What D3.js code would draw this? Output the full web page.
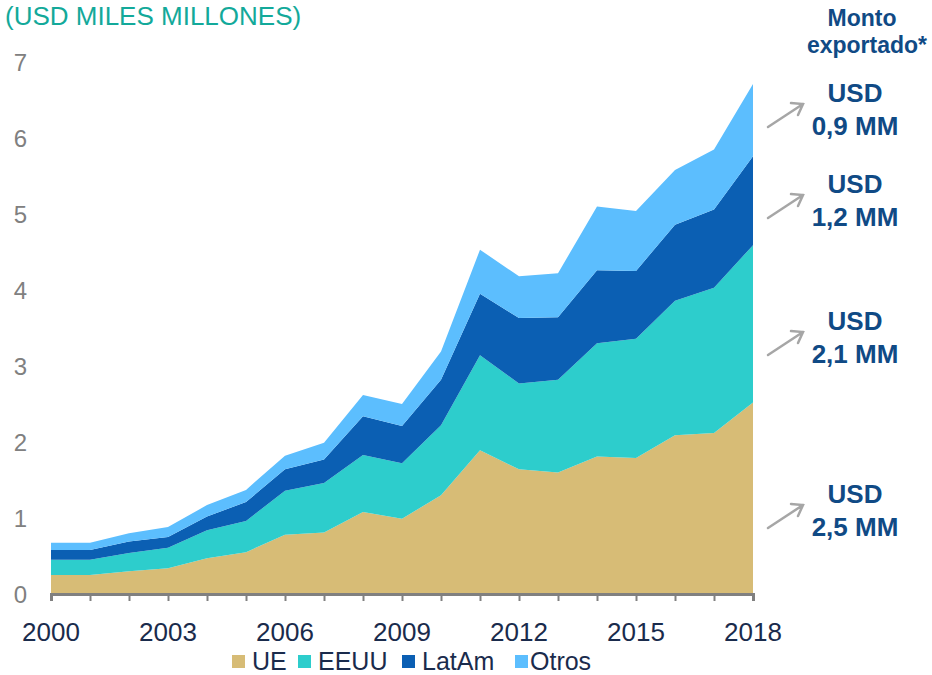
<!DOCTYPE html>
<html>
<head>
<meta charset="utf-8">
<script src="https://cdn.jsdelivr.net/npm/d3@7"></script>
<style>
  body { margin: 0; background: #fff; }
  svg { display: block; font-family: "Liberation Sans", Arial, sans-serif; }
</style>
</head>
<body>
<div id="chart"></div>
<script>
const years = d3.range(2000, 2019);
const ue    = [0.25, 0.25, 0.30, 0.34, 0.47, 0.55, 0.78, 0.81, 1.08, 0.99, 1.30, 1.89, 1.64, 1.60, 1.81, 1.79, 2.09, 2.12, 2.52];
const eeuu  = [0.20, 0.20, 0.24, 0.27, 0.37, 0.41, 0.58, 0.65, 0.75, 0.73, 0.92, 1.25, 1.13, 1.22, 1.49, 1.57, 1.77, 1.91, 2.07];
const latam = [0.13, 0.13, 0.15, 0.14, 0.18, 0.25, 0.28, 0.31, 0.51, 0.49, 0.60, 0.81, 0.86, 0.82, 0.96, 0.89, 1.00, 1.03, 1.17];
const otros = [0.095, 0.095, 0.11, 0.13, 0.15, 0.16, 0.18, 0.22, 0.28, 0.29, 0.37, 0.58, 0.55, 0.58, 0.84, 0.79, 0.72, 0.79, 0.95];
const seriesNames = ["UE", "EEUU", "LatAm", "Otros"];
const yTicks = [0, 1, 2, 3, 4, 5, 6, 7];
const xLabelYears = [2000, 2003, 2006, 2009, 2012, 2015, 2018];
const annotations = ["0,9 MM", "1,2 MM", "2,1 MM", "2,5 MM"];

const colors = { UE: "#d7bc76", EEUU: "#2dcdcc", LatAm: "#0b5fb3", Otros: "#5cbefe" };

const width = 932, height = 675;
const margin = { left: 51, right: 179, top: 62, bottom: 81 };

const table = years.map((yr, i) => ({
  year: yr, UE: ue[i], EEUU: eeuu[i], LatAm: latam[i], Otros: otros[i]
}));

const svg = d3.select("#chart").append("svg")
  .attr("width", width)
  .attr("height", height);

const x = d3.scaleLinear()
  .domain([2000, 2018])
  .range([margin.left, width - margin.right]);
const y = d3.scaleLinear()
  .domain([0, 7])
  .range([height - margin.bottom, margin.top]);

const stacked = d3.stack().keys(seriesNames)(table);

const area = d3.area()
  .x(d => x(d.data.year))
  .y0(d => y(d[0]))
  .y1(d => y(d[1]));

svg.append("g").selectAll("path")
  .data(stacked)
  .join("path")
    .attr("fill", d => colors[d.key])
    .attr("d", area);

// title
svg.append("text")
  .attr("x", 5)
  .attr("y", 25)
  .attr("font-size", "26px")
  .attr("fill", "#13a99a")
  .text("(USD MILES MILLONES)");

// y axis labels
svg.append("g").selectAll("text")
  .data(yTicks)
  .join("text")
    .attr("x", 27)
    .attr("y", d => y(d))
    .attr("dy", "0.36em")
    .attr("text-anchor", "end")
    .attr("font-size", "24px")
    .attr("fill", "#808080")
    .text(d => d);

// x axis
const xAxis = svg.append("g")
  .attr("transform", `translate(0, ${y(0)})`)
  .call(d3.axisBottom(x).tickValues(years).tickSize(7).tickFormat(""));
xAxis.select(".domain").attr("stroke", "#808080").attr("stroke-width", 3);
xAxis.selectAll(".tick line").attr("stroke", "#808080").attr("stroke-width", 2);

svg.append("g").selectAll("text")
  .data(xLabelYears)
  .join("text")
    .attr("x", d => x(d))
    .attr("y", 641)
    .attr("text-anchor", "middle")
    .attr("font-size", "26px")
    .attr("fill", "#1a2b4c")
    .text(d => d);

// legend
const legendItems = [
  { key: "UE", x: 232 },
  { key: "EEUU", x: 298 },
  { key: "LatAm", x: 402 },
  { key: "Otros", x: 515 }
];
const lg = svg.append("g").selectAll("g")
  .data(legendItems)
  .join("g")
    .attr("transform", d => `translate(${d.x}, 655)`);
lg.append("rect")
  .attr("width", 13).attr("height", 13)
  .attr("fill", d => colors[d.key]);
lg.append("text")
  .attr("x", d => d.key === "Otros" ? 15 : 20)
  .attr("y", 15)
  .attr("font-size", "25px")
  .attr("fill", "#1a2b4c")
  .text(d => d.key);

// right side annotations
const navy = "#104a85";
svg.append("text")
  .attr("x", 862).attr("y", 26)
  .attr("text-anchor", "middle")
  .attr("font-size", "23px").attr("font-weight", "bold")
  .attr("fill", navy)
  .text("Monto");
svg.append("text")
  .attr("x", 867).attr("y", 53)
  .attr("text-anchor", "middle")
  .attr("font-size", "23px").attr("font-weight", "bold")
  .attr("fill", navy)
  .text("exportado*");

const annY = [102, 193, 330, 503];
const ann = svg.append("g").selectAll("g")
  .data(annotations)
  .join("g")
    .attr("transform", (d, i) => `translate(0, ${annY[i]})`);
ann.append("text")
  .attr("x", 855).attr("y", 0)
  .attr("text-anchor", "middle")
  .attr("font-size", "26px").attr("font-weight", "bold")
  .attr("fill", navy)
  .text("USD");
ann.append("text")
  .attr("x", 855).attr("y", 33)
  .attr("text-anchor", "middle")
  .attr("font-size", "26px").attr("font-weight", "bold")
  .attr("fill", navy)
  .text(d => d);
ann.append("path")
  .attr("d", "M768,25 L803,2 M791,1 L803,2 L798,13")
  .attr("fill", "none")
  .attr("stroke", "#a6a6a6")
  .attr("stroke-width", 2.5)
  .attr("stroke-linecap", "round");
</script>
</body>
</html>
